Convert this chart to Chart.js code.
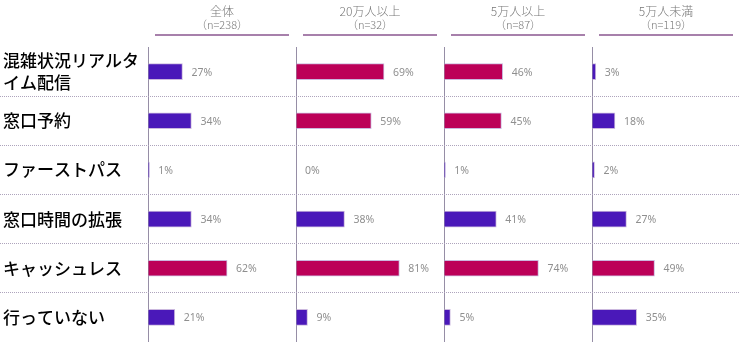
<!DOCTYPE html>
<html>
<head>
<meta charset="utf-8">
<script src="https://cdn.jsdelivr.net/npm/chart.js@4"></script>
<style>
html, body { margin: 0; padding: 0; background: #fff; }
#wrap { width: 740px; height: 342px; }
</style>
</head>
<body>
<div id="wrap"><canvas id="chart"></canvas></div>
<script>
// data
var rowLabels = [['混雑状況リアルタ', 'イム配信'], '窓口予約', 'ファーストパス', '窓口時間の拡張', 'キャッシュレス', '行っていない'];
var groupNames = ['全体', '20万人以上', '5万人以上', '5万人未満'];
var groupCounts = ['（n=238）', '（n=32）', '（n=87）', '（n=119）'];
var allValues = [27, 34, 1, 34, 62, 21];
var over200k = [69, 59, 0, 38, 81, 9];
var over50k = [46, 45, 1, 41, 74, 5];
var under50k = [3, 18, 2, 27, 49, 35];

var PURPLE = '#4a18b9';
var MAGENTA = '#bc0058';
var JP = '"Noto Sans CJK JP", "Noto Sans", sans-serif';

var seriesList = [allValues, over200k, over50k, under50k];

var datasets = seriesList.map(function(vals, i) {
    return {
        label: groupNames[i],
        data: vals,
        xAxisID: 'x' + i,
        yAxisID: 'y',
        grouped: false,
        barThickness: 16,
        borderWidth: 1,
        borderColor: '#cbb8de',
        // highlighted answers (45% and up) are drawn in magenta
        backgroundColor: function(c) { return c.raw >= 45 ? MAGENTA : PURPLE; }
    };
});

function panelAxis(i) {
    return {
        type: 'linear',
        position: 'top',
        stack: 'panels',
        weight: 10 - i,   // top boxes are laid out in reverse, keep 全体 on the left
        min: 0,
        max: 116,
        ticks: { display: false },
        border: { display: false },
        grid: {
            drawTicks: false,
            lineWidth: 1,
            color: function(c) { return c.tick && c.tick.value === 0 ? '#968ea6' : 'transparent'; }
        },
        afterFit: function(s) { s.height = 47; }
    };
}

var rowLine = function(c) { return c.type === 'tick' && c.index > 0 ? '#aea4bc' : 'transparent'; };

var headerPlugin = {
    id: 'headers',
    afterDraw: function(chart) {
        var ctx = chart.ctx;
        ctx.save();
        groupNames.forEach(function(name, i) {
            var s = chart.scales['x' + i];
            var cx = (s.left + s.right) / 2;
            ctx.fillStyle = '#777777';
            ctx.textAlign = 'center';
            ctx.textBaseline = 'middle';
            ctx.font = '300 12px ' + JP;
            ctx.fillText(name, cx, 11);
            ctx.font = '300 11px ' + JP;
            ctx.fillText(groupCounts[i], cx, 25);
            ctx.strokeStyle = '#a780ab';
            ctx.lineWidth = 2;
            ctx.beginPath();
            ctx.moveTo(s.left + 7, 35);
            ctx.lineTo(s.right - 7, 35);
            ctx.stroke();
        });
        ctx.restore();
    }
};

var valueLabels = {
    id: 'valueLabels',
    afterDatasetsDraw: function(chart) {
        var ctx = chart.ctx;
        ctx.save();
        ctx.fillStyle = '#8f8f8f';
        ctx.font = '10.5px "Noto Sans", sans-serif';
        ctx.textAlign = 'left';
        ctx.textBaseline = 'middle';
        chart.data.datasets.forEach(function(ds, i) {
            chart.getDatasetMeta(i).data.forEach(function(bar, j) {
                ctx.fillText(ds.data[j] + '%', bar.x + 9, bar.y + 1);
            });
        });
        ctx.restore();
    }
};

new Chart(document.getElementById('chart').getContext('2d'), {
    type: 'bar',
    data: { labels: rowLabels, datasets: datasets },
    plugins: [headerPlugin, valueLabels],
    options: {
        indexAxis: 'y',
        responsive: true,
        maintainAspectRatio: false,
        animation: false,
        layout: { padding: { left: 3, right: 0, top: 0, bottom: 0 } },
        plugins: { legend: { display: false }, tooltip: { enabled: false } },
        scales: {
            x0: panelAxis(0),
            x1: panelAxis(1),
            x2: panelAxis(2),
            x3: panelAxis(3),
            y: {
                type: 'category',
                position: 'left',
                border: { display: false, dash: [1, 1] },
                grid: {
                    offset: true,
                    tickLength: 148,
                    lineWidth: 1,
                    color: rowLine,
                    tickColor: rowLine,
                    tickBorderDash: [1, 1]
                },
                ticks: {
                    autoSkip: false,
                    crossAlign: 'far',
                    padding: 0,
                    color: '#000',
                    font: { family: JP, size: 17, weight: '500', lineHeight: 1.3 }
                },
                afterFit: function(s) {
                    s.width = 145;
                    // labels sit inside their rows, no extra room needed above/below
                    s.paddingTop = 0;
                    s.paddingBottom = 0;
                }
            }
        }
    }
});
</script>
</body>
</html>
